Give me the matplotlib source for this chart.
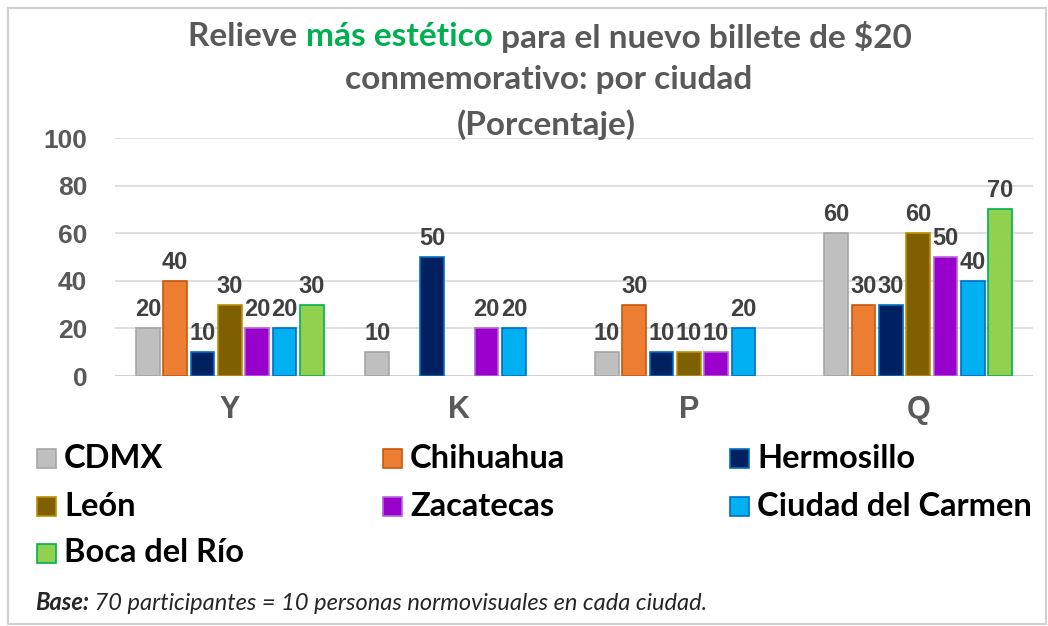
import matplotlib
matplotlib.use("Agg")
import matplotlib.pyplot as plt
from matplotlib.patches import Rectangle
import numpy as np

# Data
groups = ["Y", "K", "P", "Q"]
cities = ["CDMX", "Chihuahua", "Hermosillo", "León", "Zacatecas",
          "Ciudad del Carmen", "Boca del Río"]
cdmx = [20, 10, 10, 60]
chihuahua = [40, 0, 30, 30]
hermosillo = [10, 50, 10, 30]
leon = [30, 0, 10, 60]
zacatecas = [20, 20, 10, 50]
carmen = [20, 20, 20, 40]
boca = [30, 0, 0, 70]
yticks = [0, 20, 40, 60, 80, 100]

series = [cdmx, chihuahua, hermosillo, leon, zacatecas, carmen, boca]
colors = ["#BFBFBF", "#ED7D31", "#002060", "#7F6000", "#9900CC", "#00B0F0", "#92D050"]
edges = ["#A6A6A6", "#C55A11", "#0070C0", "#BF9000", "#B266D9", "#0070C0", "#00B050"]

W, H = 1048, 626
fig = plt.figure(figsize=(W / 100, H / 100), dpi=100)

# light frame around the whole chart
fig.patches.append(Rectangle((8 / W, 2 / H), (W - 10) / W, (H - 10) / H,
                             transform=fig.transFigure, fill=False,
                             edgecolor="#D0D0D0", linewidth=1.5))

ax = fig.add_axes([115 / W, 250 / H, 918 / W, 238 / H])

x = np.arange(len(groups))
step = 0.119
width = 0.103
for i, vals in enumerate(series):
    pos = x + (i - 3) * step
    lw = [1.2 if v > 0 else 0 for v in vals]  # no outline for empty bars
    bars = ax.bar(pos, vals, width, color=colors[i], edgecolor=edges[i], linewidth=lw, zorder=3)
    for b, v in zip(bars, vals):
        if v > 0:
            ax.annotate(str(v), (b.get_x() + b.get_width() / 2, v), xytext=(0, 5),
                        textcoords="offset points", ha="center", va="bottom",
                        fontsize=17, fontweight="bold", color="#404040",
                        family="Liberation Sans")

ax.set_xlim(-0.5, len(groups) - 0.5)
ax.set_ylim(0, 100)
ax.set_yticks(yticks)
ax.set_xticks(x)
ax.set_xticklabels(groups)
for lab in ax.get_yticklabels():
    lab.set_fontsize(19)
    lab.set_fontweight("bold")
    lab.set_color("#595959")
    lab.set_family("Liberation Sans")
for lab in ax.get_xticklabels():
    lab.set_fontsize(22)
    lab.set_fontweight("bold")
    lab.set_color("#595959")
    lab.set_family("Liberation Sans")
ax.tick_params(axis="both", length=0)
ax.tick_params(axis="y", pad=20)
ax.tick_params(axis="x", pad=14)
ax.grid(axis="y", color="#D9D9D9", linewidth=1.2, zorder=0)
for s in ax.spines.values():
    s.set_visible(False)
ax.axhline(0, color="#D0D0D0", linewidth=1.2, zorder=2)

# Title with the green part in the middle of the first line
renderer = fig.canvas.get_renderer()
tfont = dict(fontsize=24, fontweight="bold", family="Lato")
parts = [("Relieve ", "#595959"), ("más estético", "#00B050"),
         (" para el nuevo billete de $20", "#595959")]
texts = []
for s, c in parts:
    texts.append(fig.text(0, 1 - 37 / H, s, color=c, va="center", ha="left", **tfont))
widths = [t.get_window_extent(renderer).width for t in texts]
xstart = 550 - sum(widths) / 2
for t, w in zip(texts, widths):
    t.set_x(xstart / W)
    xstart += w
fig.text(549 / W, 1 - 80 / H, "conmemorativo: por ciudad", color="#595959",
         ha="center", va="center", **tfont)
fig.text(546 / W, 1 - 125 / H, "(Porcentaje)", color="#595959",
         ha="center", va="center", **tfont)

# Legend, laid out row by row like the original
col_x = [37, 383, 730]
row_y = [458, 506, 553]
for i, name in enumerate(cities):
    cx = col_x[i % 3]
    cy = row_y[i // 3]
    fig.patches.append(Rectangle((cx / W, 1 - (cy + 9.5) / H), 19 / W, 19 / H,
                                 transform=fig.transFigure, facecolor=colors[i],
                                 edgecolor=edges[i], linewidth=1.2))
    fig.text((cx + 27) / W, 1 - cy / H, name, fontsize=23.5, fontweight="bold",
             family="Lato", color="black", va="center", ha="left")

# Footnote
fn = fig.text(35 / W, 1 - 603 / H, "Base:", fontsize=17, fontweight="bold",
              style="italic", family="Lato", color="#262626", va="center", ha="left")
fw = fn.get_window_extent(renderer).width
fig.text((35 + fw) / W, 1 - 603 / H, " 70 participantes = 10 personas normovisuales en cada ciudad.",
         fontsize=17, style="italic", family="Lato", color="#262626", va="center", ha="left")

fig.savefig("out.png", dpi=100)
